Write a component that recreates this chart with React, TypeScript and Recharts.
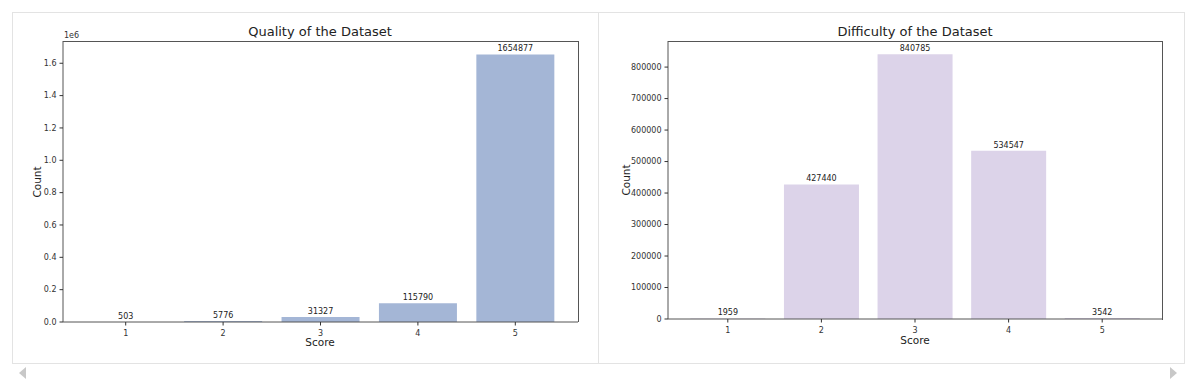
import React from "react";
import { BarChart, Bar, XAxis, YAxis, LabelList } from "recharts";

const scores = ["1", "2", "3", "4", "5"];
const qualityCounts = [503, 5776, 31327, 115790, 1654877];
const difficultyCounts = [1959, 427440, 840785, 534547, 3542];
const qualityTicks = [0, 200000, 400000, 600000, 800000, 1000000, 1200000, 1400000, 1600000];
const difficultyTicks = [0, 100000, 200000, 300000, 400000, 500000, 600000, 700000, 800000];

const qualityData = scores.map((s, i) => ({ score: s, count: qualityCounts[i] }));
const difficultyData = scores.map((s, i) => ({ score: s, count: difficultyCounts[i] }));

const FONT = "'DejaVu Sans', sans-serif";
const tickStyle = { fontSize: 8, fill: "#333", fontFamily: FONT };
const axisColor = "#555";

const abs = (left: number, top: number, extra: any = {}): React.CSSProperties => ({
  position: "absolute",
  left,
  top,
  fontFamily: FONT,
  color: "#222",
  whiteSpace: "nowrap",
  ...extra,
});

const Panel = ({ data, ticks, domainMax, color, fmt, yWidth, marginLeft, marginRight, marginBottom, padX }: any) => (
  <BarChart
    width={598}
    height={363}
    data={data}
    margin={{ top: 41, right: marginRight, bottom: marginBottom, left: marginLeft }}
    barCategoryGap="10%"
  >
    <XAxis
      dataKey="score"
      tick={tickStyle}
      tickSize={3.5}
      tickMargin={5}
      height={30}
      stroke={axisColor}
      tickLine={{ stroke: "#333" }}
      padding={{ left: padX, right: padX }}
    />
    <YAxis
      domain={[0, domainMax]}
      ticks={ticks}
      tickFormatter={fmt}
      tick={tickStyle}
      tickSize={3.5}
      tickMargin={3}
      width={yWidth}
      stroke={axisColor}
      tickLine={{ stroke: "#333" }}
      interval={0}
    />
    <Bar dataKey="count" fill={color} isAnimationActive={false}>
      <LabelList dataKey="count" position="top" offset={3} style={{ fontSize: 8, fill: "#222", fontFamily: FONT }} />
    </Bar>
  </BarChart>
);

const frame = (left: number, top: number, width: number, height: number): React.CSSProperties => ({
  position: "absolute",
  left,
  top,
  width,
  height,
  borderTop: `1px solid ${axisColor}`,
  borderRight: `1px solid ${axisColor}`,
  boxSizing: "border-box",
  pointerEvents: "none",
});

export default function App() {
  return (
    <div style={{ position: "fixed", left: 0, top: 0, width: 1196, height: 386, background: "#fff" }}>
      <div style={{ position: "absolute", left: 12, top: 12, width: 1171, height: 350, border: "1px solid #e3e3e3" }} />
      <div style={{ position: "absolute", left: 598, top: 12, width: 1, height: 351, background: "#e3e3e3" }} />
      <div style={{ position: "absolute", left: 0, top: 0 }}>
        <Panel
          data={qualityData}
          ticks={qualityTicks}
          domainMax={1737621}
          color="#a4b6d6"
          fmt={(v: number) => (v / 1e6).toFixed(1)}
          yWidth={40}
          marginLeft={23}
          marginRight={20}
          marginBottom={11}
          padX={14}
        />
      </div>
      <div style={{ position: "absolute", left: 598, top: 0 }}>
        <Panel
          data={difficultyData}
          ticks={difficultyTicks}
          domainMax={882824}
          color="#dcd3e9"
          fmt={(v: number) => String(v)}
          yWidth={50}
          marginLeft={20}
          marginRight={34}
          marginBottom={14}
          padX={13}
        />
      </div>
      <div style={frame(63, 41, 516, 281)} />
      <div style={frame(668, 41, 495, 279)} />
      <div style={abs(320, 24, { fontSize: 13, transform: "translateX(-50%)" })}>Quality of the Dataset</div>
      <div style={abs(915, 24, { fontSize: 13, transform: "translateX(-50%)" })}>Difficulty of the Dataset</div>
      <div style={abs(64, 31, { fontSize: 8, color: "#333" })}>1e6</div>
      <div style={abs(320, 336, { fontSize: 10.5, transform: "translateX(-50%)" })}>Score</div>
      <div style={abs(915, 334, { fontSize: 10.5, transform: "translateX(-50%)" })}>Score</div>
      <div style={abs(37, 182, { fontSize: 10.5, transform: "translate(-50%, -50%) rotate(-90deg)" })}>Count</div>
      <div style={abs(626, 180, { fontSize: 10.5, transform: "translate(-50%, -50%) rotate(-90deg)" })}>Count</div>
      <div style={{ position: "absolute", left: 19, top: 367, width: 0, height: 0, borderTop: "6px solid transparent", borderBottom: "6px solid transparent", borderRight: "7px solid #c8c8c8" }} />
      <div style={{ position: "absolute", left: 1170, top: 367, width: 0, height: 0, borderTop: "6px solid transparent", borderBottom: "6px solid transparent", borderLeft: "7px solid #c8c8c8" }} />
    </div>
  );
}
